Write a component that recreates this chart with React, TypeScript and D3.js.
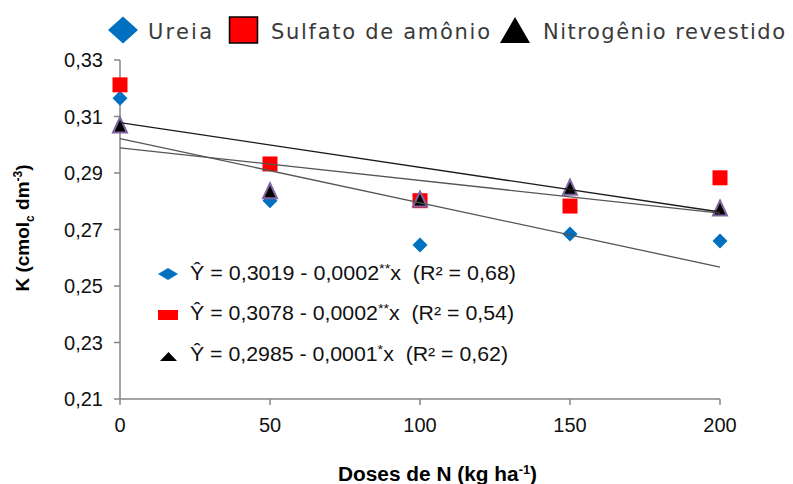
import React from "react";
import * as d3 from "d3";

const doses = [0, 50, 100, 150, 200];
const ureia = [0.3165, 0.2802, 0.2645, 0.2684, 0.2659];
const sulfato = [0.3212, 0.2932, 0.2802, 0.2783, 0.2883];
const nitrogenio = [0.307, 0.2837, 0.2808, 0.285, 0.2776];
// trend line values at dose 0 and dose 200
const trendDoses = [0, 200];
const trendUreia = [0.3022, 0.2567];
const trendSulfato = [0.3078, 0.2762];
const trendNitro = [0.2989, 0.2758];
const yTicks = [0.21, 0.23, 0.25, 0.27, 0.29, 0.31, 0.33];
const xTicks = [0, 50, 100, 150, 200];
const seriesNames = ["Ureia", "Sulfato de amônio", "Nitrogênio revestido"];
const eqIntercepts = ["0,3019", "0,3078", "0,2985"];
const eqSlopes = ["0,0002", "0,0002", "0,0001"];
const eqSig = ["**", "**", "*"];
const eqR2 = ["0,68", "0,54", "0,62"];

const BLUE = "#0070C0";
const RED = "#FF0000";
const PURPLE = "#8064A2";
const AXIS = "#868686";

const diamond = (cx: number, cy: number, w: number, h: number) =>
  `M${cx},${cy - h / 2}L${cx + w / 2},${cy}L${cx},${cy + h / 2}L${cx - w / 2},${cy}Z`;
const triangle = (cx: number, cy: number, w: number, h: number) =>
  `M${cx},${cy - h / 2}L${cx + w / 2},${cy + h / 2}L${cx - w / 2},${cy + h / 2}Z`;

export default function App() {
  const x = d3.scaleLinear().domain([0, 200]).range([120, 720]);
  const y = d3.scaleLinear().domain([0.21, 0.33]).range([399, 60]);
  const line = d3
    .line<[number, number]>()
    .x((d) => x(d[0]))
    .y((d) => y(d[1]));
  const fmt = (v: number) => v.toFixed(2).replace(".", ",");
  const trends = [
    { vals: trendUreia, color: "#555555" },
    { vals: trendNitro, color: "#555555" },
    { vals: trendSulfato, color: "#1a1a1a" },
  ];
  const eqY = [280, 320, 361];
  const eqW = [326, 324, 318];
  const legendText = [
    { x: 148, w: 64 },
    { x: 271, w: 219 },
    { x: 543, w: 242 },
  ];

  return (
    <svg
      width={793}
      height={484}
      style={{ position: "absolute", left: 0, top: 0, background: "#fff" }}
    >
      <rect width={793} height={484} fill="#fff" />
      {/* axes */}
      <line x1={120} x2={120} y1={y(0.33)} y2={y(0.21)} stroke={AXIS} strokeWidth={1.5} />
      <line x1={120} x2={x(200)} y1={y(0.21)} y2={y(0.21)} stroke={AXIS} strokeWidth={1.5} />
      {yTicks.map((t) => (
        <g key={"y" + t}>
          <line x1={114} x2={120} y1={y(t)} y2={y(t)} stroke={AXIS} strokeWidth={1.5} />
          <text
            x={103}
            y={y(t)}
            dy="0.36em"
            textAnchor="end"
            fontFamily="Liberation Sans, Arial, sans-serif"
            fontSize={20}
            fill="#111"
          >
            {fmt(t)}
          </text>
        </g>
      ))}
      {xTicks.map((t) => (
        <g key={"x" + t}>
          <line x1={x(t)} x2={x(t)} y1={399} y2={405} stroke={AXIS} strokeWidth={1.5} />
          <text
            x={x(t)}
            y={432}
            textAnchor="middle"
            fontFamily="Liberation Sans, Arial, sans-serif"
            fontSize={20}
            fill="#111"
          >
            {t}
          </text>
        </g>
      ))}
      {/* markers */}
      {doses.map((d, i) => (
        <path key={"u" + i} d={diamond(x(d), y(ureia[i]), 15, 15)} fill={BLUE} />
      ))}
      {doses.map((d, i) => (
        <rect
          key={"s" + i}
          x={x(d) - 7.5}
          y={y(sulfato[i]) - 7.5}
          width={15}
          height={15}
          fill={RED}
        />
      ))}
      {doses.map((d, i) => (
        <path
          key={"n" + i}
          d={triangle(x(d), y(nitrogenio[i]), 14, 15)}
          fill="#000"
          stroke={PURPLE}
          strokeWidth={2}
          strokeLinejoin="miter"
        />
      ))}
      {/* trend lines */}
      {trends.map((t, i) => (
        <path
          key={"t" + i}
          d={line(trendDoses.map((d, j) => [d, t.vals[j]] as [number, number])) || ""}
          fill="none"
          stroke={t.color}
          strokeWidth={1.3}
        />
      ))}
      {/* top legend */}
      <path d={diamond(123, 30, 30, 27)} fill={BLUE} />
      <rect x={229.5} y={17} width={28} height={26} fill={RED} stroke="#000" strokeWidth={1.5} />
      <path d={triangle(515, 30, 30, 26)} fill="#000" />
      {seriesNames.map((n, i) => (
        <text
          key={"l" + i}
          x={legendText[i].x}
          y={39}
          fontFamily="DejaVu Sans, sans-serif"
          fontSize={21}
          fill="#3a3a3a"
          textLength={legendText[i].w}
          lengthAdjust="spacing"
        >
          {n}
        </text>
      ))}
      {/* equation legend */}
      <path d={diamond(168, 274, 20, 12)} fill={BLUE} />
      <rect x={158} y={310} width={20} height={10} fill={RED} />
      <path d={triangle(168.5, 356.5, 17, 9)} fill="#000" />
      {eqIntercepts.map((b, i) => (
        <text
          key={"e" + i}
          x={190}
          y={eqY[i]}
          fontFamily="Liberation Sans, Arial, sans-serif"
          fontSize={19.5}
          fill="#111"
          style={{ whiteSpace: "pre" }}
          textLength={eqW[i]}
          lengthAdjust="spacingAndGlyphs"
        >
          {`\u0176 = ${b} - ${eqSlopes[i]}`}
          <tspan dy={-7} fontSize={13}>
            {eqSig[i]}
          </tspan>
          <tspan dy={7}>{`x  (R\u00B2 = ${eqR2[i]})`}</tspan>
        </text>
      ))}
      {/* axis titles */}
      <text
        transform="translate(29,228) rotate(-90)"
        textAnchor="middle"
        fontFamily="Liberation Sans, Arial, sans-serif"
        fontWeight="bold"
        fontSize={19}
        fill="#000"
      >
        K (cmol
        <tspan dy={5} fontSize={12}>
          c
        </tspan>
        <tspan dy={-5}> dm</tspan>
        <tspan dy={-7} fontSize={12}>
          -3
        </tspan>
        <tspan dy={7}>)</tspan>
      </text>
      <text
        x={338}
        y={481}
        fontFamily="Liberation Sans, Arial, sans-serif"
        fontWeight="bold"
        fontSize={19.5}
        fill="#000"
        textLength={199}
        lengthAdjust="spacingAndGlyphs"
      >
        Doses de N (kg ha
        <tspan dy={-7} fontSize={12}>
          -1
        </tspan>
        <tspan dy={7}>)</tspan>
      </text>
    </svg>
  );
}
